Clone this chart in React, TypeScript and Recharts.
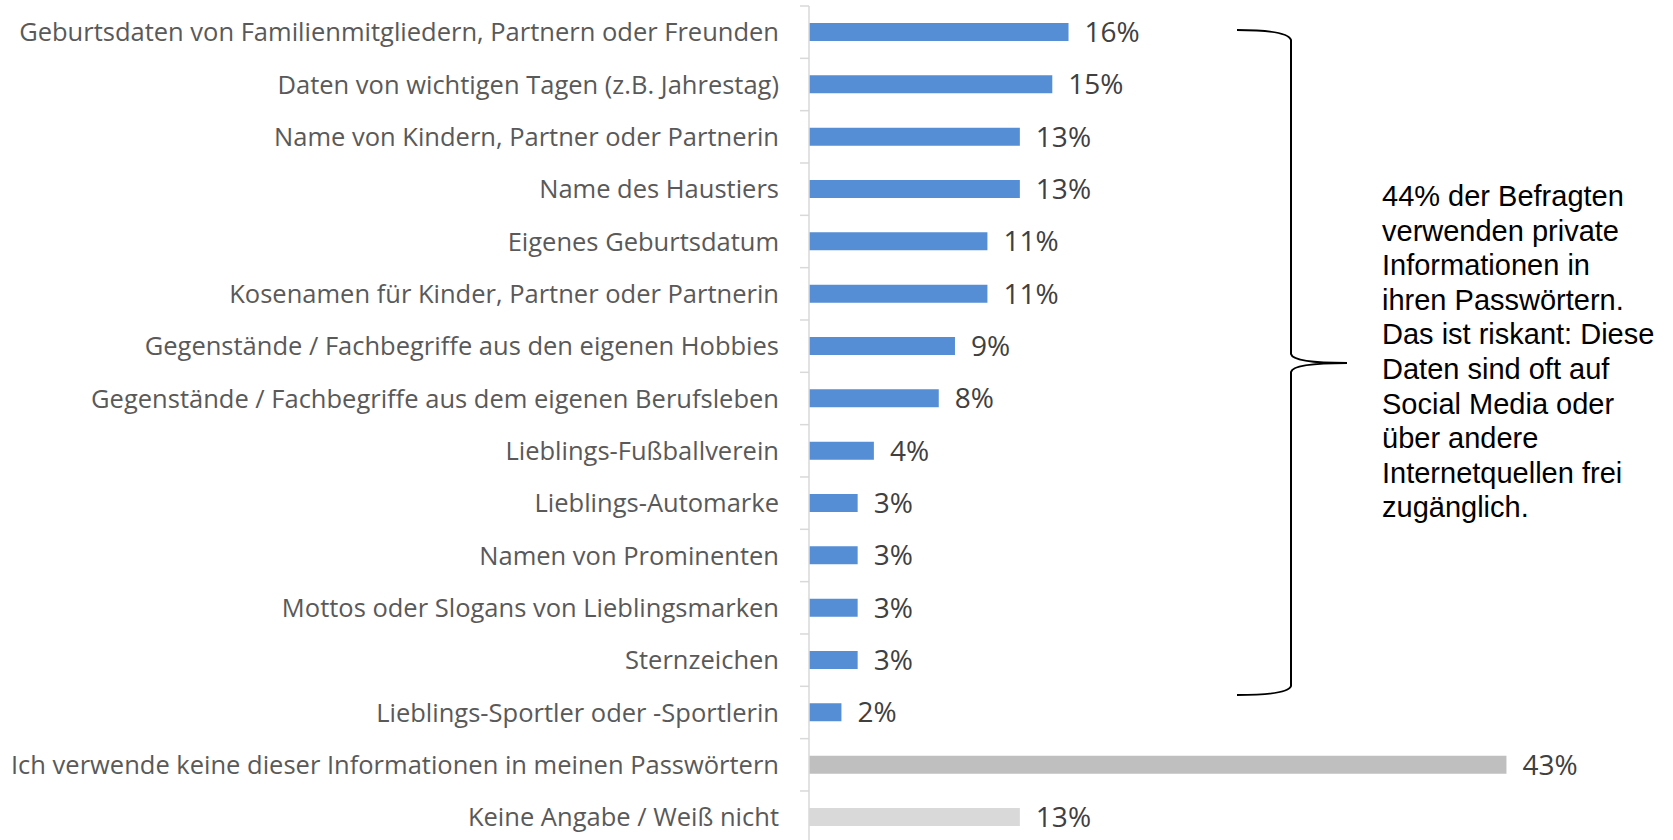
import { BarChart, Bar, XAxis, YAxis, Cell, LabelList } from "recharts";

const categories = [
  "Geburtsdaten von Familienmitgliedern, Partnern oder Freunden",
  "Daten von wichtigen Tagen (z.B. Jahrestag)",
  "Name von Kindern, Partner oder Partnerin",
  "Name des Haustiers",
  "Eigenes Geburtsdatum",
  "Kosenamen für Kinder, Partner oder Partnerin",
  "Gegenstände / Fachbegriffe aus den eigenen Hobbies",
  "Gegenstände / Fachbegriffe aus dem eigenen Berufsleben",
  "Lieblings-Fußballverein",
  "Lieblings-Automarke",
  "Namen von Prominenten",
  "Mottos oder Slogans von Lieblingsmarken",
  "Sternzeichen",
  "Lieblings-Sportler oder -Sportlerin",
  "Ich verwende keine dieser Informationen in meinen Passwörtern",
  "Keine Angabe / Weiß nicht",
];

const shares = [16, 15, 13, 13, 11, 11, 9, 8, 4, 3, 3, 3, 3, 2, 43, 13];

// which answer group each row belongs to
const groups = [
  "private", "private", "private", "private", "private", "private", "private",
  "private", "private", "private", "private", "private", "private", "private",
  "none", "unknown",
];

const noteLines = [
  "44% der Befragten",
  "verwenden private",
  "Informationen in",
  "ihren Passwörtern.",
  "Das ist riskant: Diese",
  "Daten sind oft auf",
  "Social Media oder",
  "über andere",
  "Internetquellen frei",
  "zugänglich.",
];

const groupColors: Record<string, string> = {
  private: "#558ed5",
  none: "#bfbfbf",
  unknown: "#d9d9d9",
};

const data = categories.map((name, i) => ({ name, share: shares[i], group: groups[i] }));

function CategoryTick(props: any) {
  const { x, y, payload } = props;
  const half = payload?.offset || 26.17;
  return (
    <g>
      <line x1={x + 20} x2={x + 29} y1={y - half} y2={y - half} stroke="#d9d9d9" strokeWidth={1.5} />
      <text
        x={x - 1}
        y={y}
        dy="0.36em"
        textAnchor="end"
        fill="#595959"
        fontSize={25.5}
        fontFamily="'Open Sans', sans-serif"
      >
        {payload.value}
      </text>
    </g>
  );
}

export default function App() {
  return (
    <div
      style={{
        position: "fixed",
        left: 0,
        top: 0,
        width: 1673,
        height: 840,
        overflow: "hidden",
        background: "#fff",
      }}
    >
      <BarChart
        width={1673}
        height={850}
        data={data}
        layout="vertical"
        margin={{ top: 6, right: 53, bottom: 6.7, left: 0 }}
      >
        <XAxis type="number" hide domain={[0, 50]} />
        <YAxis
          type="category"
          dataKey="name"
          width={809}
          interval={0}
          tickSize={9}
          tickMargin={20}
          tickLine={false}
          axisLine={{ stroke: "#d9d9d9", strokeWidth: 1.5 }}
          tick={<CategoryTick />}
        />
        <Bar dataKey="share" barSize={18} isAnimationActive={false}>
          {data.map((d) => (
            <Cell key={d.name} fill={groupColors[d.group]} />
          ))}
          <LabelList
            dataKey="share"
            position="right"
            offset={16}
            formatter={(v: any) => `${v}%`}
            fill="#404040"
            fontSize={28}
            fontFamily="'Open Sans', sans-serif"
          />
        </Bar>
      </BarChart>

      <svg
        width={1673}
        height={840}
        style={{ position: "absolute", left: 0, top: 0, pointerEvents: "none" }}
      >
        <path
          d="M1237 30 Q1288 30 1291 40 L1291 354 Q1293 363 1347 363 Q1293 363 1291 372 L1291 686 Q1288 695 1237 695"
          fill="none"
          stroke="#000"
          strokeWidth={2}
        />
      </svg>

      <div
        style={{
          position: "absolute",
          left: 1382,
          top: 179,
          fontFamily: "'Liberation Sans', Arial, sans-serif",
          fontSize: 29,
          lineHeight: "34.6px",
          color: "#000",
          whiteSpace: "nowrap",
        }}
      >
        {noteLines.map((line) => (
          <div key={line}>{line}</div>
        ))}
      </div>
    </div>
  );
}
